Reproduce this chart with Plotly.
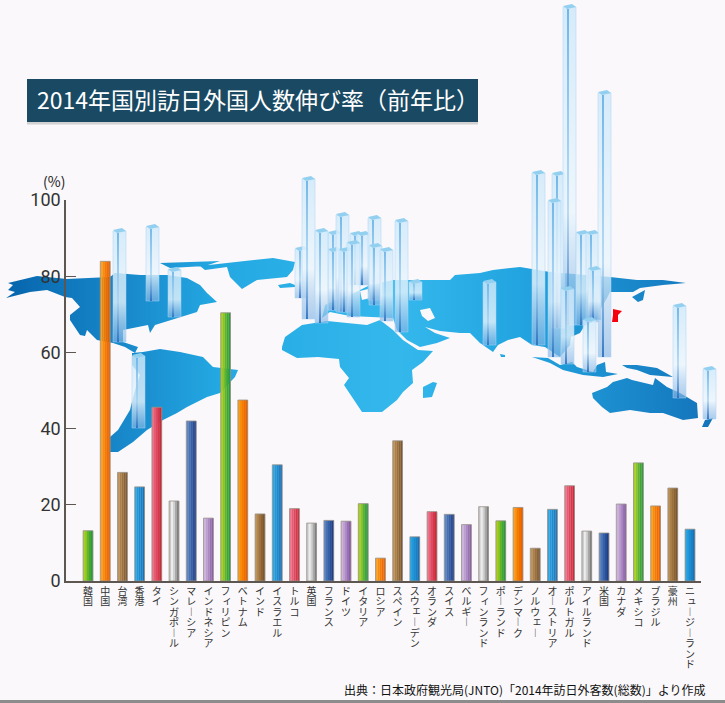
import numpy as np
import plotly.graph_objects as go

categories = ["韓国", "中国", "台湾", "香港", "タイ", "シンガポール", "マレーシア", "インドネシア", "フィリピン",
              "ベトナム", "インド", "イスラエル", "トルコ", "英国", "フランス", "ドイツ", "イタリア", "ロシア",
              "スペイン", "スウェーデン", "オランダ", "スイス", "ベルギー", "フィンランド", "ポーランド", "デンマーク",
              "ノルウェー", "オーストリア", "ポルトガル", "アイルランド", "米国", "カナダ", "メキシコ", "ブラジル",
              "豪州", "ニュージーランド"]
growth = [13.2, 83.9, 28.5, 24.7, 45.6, 21.0, 42.0, 16.5, 70.4,
          47.5, 17.6, 30.5, 19.0, 15.2, 15.9, 15.7, 20.3, 6.0,
          36.8, 11.6, 18.2, 17.5, 14.8, 19.5, 15.8, 19.3,
          8.6, 18.8, 25.0, 13.1, 12.6, 20.2, 31.0, 19.7,
          24.4, 13.6]
bar_colors = ["green", "orange", "brown", "blue", "red", "grey", "navy", "purple", "green",
              "orange", "brown", "blue", "red", "grey", "navy", "purple", "green", "orange",
              "brown", "blue", "red", "navy", "purple", "grey", "green", "orange",
              "brown", "blue", "red", "grey", "navy", "purple", "green", "orange",
              "brown", "blue"]
y_ticks = [0, 20, 40, 60, 80, 100]

title_text = "2014年国別訪日外国人数伸び率（前年比）"
source_text = "出典：日本政府観光局(JNTO)「2014年訪日外客数(総数)」より作成"

# left to right shades of each bar
palette = {
    "green": ["#a8cf1e", "#8cc51f", "#62b32a", "#3fa834", "#2f9a3a"],
    "orange": ["#f9a01c", "#f88c0c", "#f57c00", "#f06e00", "#e86200"],
    "brown": ["#bd9258", "#ac8149", "#9c713d", "#8c6434", "#7c5730"],
    "blue": ["#2aa5e2", "#2098da", "#1b8ccf", "#1a7fc4", "#1a72b6"],
    "red": ["#ee7488", "#e65c74", "#dd4a5f", "#d5384c", "#cb2a3a"],
    "grey": ["#c8c8c8", "#ececec", "#d0d0d0", "#a8a8a8", "#808080"],
    "navy": ["#5b86c4", "#4672b5", "#3760a6", "#2a4f98", "#1f3f88"],
    "purple": ["#cdb3da", "#bd9ed0", "#ab89c2", "#9a72b4", "#8a5ea6"],
}

# world map outlines, in picture pixels
north_america = [(6, 298), (15, 292), (8, 290), (13, 285), (8, 283), (20, 280), (37, 276), (67, 279), (110, 277),
                 (115, 273), (140, 275), (167, 275), (187, 278), (200, 285), (207, 293), (217, 302), (200, 305),
                 (197, 312), (180, 317), (163, 322), (155, 325), (150, 333), (148, 325), (133, 328), (123, 330),
                 (123, 342), (132, 345), (138, 347), (135, 353), (125, 347), (113, 343), (97, 340), (87, 330),
                 (85, 336), (80, 335), (70, 320), (70, 315), (80, 307), (72, 298), (65, 297), (47, 290), (30, 292)]
arctic = [(160, 263), (220, 261), (205, 266), (170, 268)]
greenland = [(200, 266), (240, 262), (273, 258), (295, 262), (293, 270), (287, 277), (257, 280), (242, 289),
             (230, 277), (227, 267), (205, 270)]
south_america = [(132, 353), (143, 352), (160, 349), (180, 352), (203, 357), (213, 367), (238, 370), (235, 377),
                 (220, 393), (207, 397), (187, 407), (177, 413), (163, 420), (147, 430), (133, 442), (118, 452),
                 (110, 452), (110, 437), (118, 430), (130, 410), (135, 390), (140, 375), (132, 365)]
africa = [(282, 347), (285, 337), (302, 325), (327, 321), (347, 323), (367, 325), (380, 320), (393, 330), (403, 340),
          (418, 350), (433, 351), (423, 362), (412, 370), (413, 383), (403, 392), (397, 400), (382, 412), (362, 412),
          (352, 397), (344, 385), (349, 378), (340, 367), (339, 359), (318, 357), (297, 358), (282, 350)]
madagascar = [(423, 387), (433, 382), (437, 383), (432, 397), (423, 398)]
eurasia = [(322, 318), (330, 312), (350, 316), (373, 317), (393, 318), (397, 330), (407, 340), (420, 347), (437, 343),
           (450, 338), (435, 333), (425, 327), (440, 331), (460, 333), (470, 333), (480, 343), (493, 352), (498, 345),
           (508, 340), (520, 337), (532, 345), (545, 347), (560, 357), (570, 345), (571, 337), (580, 333), (585, 325),
           (597, 320), (600, 310), (607, 298), (610, 292), (633, 292), (640, 288), (663, 285), (686, 283), (663, 280),
           (637, 280), (610, 277), (550, 272), (520, 267), (493, 270), (480, 273), (455, 275), (450, 280), (422, 280),
           (393, 280), (370, 285), (350, 295), (335, 300), (325, 305)]
iceland = [(278, 285), (290, 283), (295, 285), (295, 287), (280, 288)]
kamchatka_sea = [(632, 297), (645, 290), (643, 300), (638, 302)]
indonesia = [(532, 357), (550, 363), (563, 370), (583, 375), (603, 377), (618, 374), (606, 372), (605, 362), (597, 365),
             (593, 372), (577, 367), (572, 362), (560, 365), (548, 358)]
new_guinea = [(622, 365), (637, 365), (657, 368), (673, 377), (650, 375), (637, 370), (627, 368)]
australia = [(592, 393), (607, 387), (613, 382), (627, 378), (632, 380), (653, 385), (655, 378), (667, 387), (680, 393),
             (697, 403), (698, 418), (683, 420), (663, 413), (650, 413), (630, 410), (610, 413), (602, 407), (593, 398)]
tasmania = [(702, 427), (705, 420), (713, 418), (708, 427)]
sri_lanka = [(500, 354), (505, 355), (505, 357), (501, 357)]
land = [north_america, arctic, greenland, south_america, africa, madagascar, eurasia, iceland, kamchatka_sea,
        indonesia, new_guinea, australia, tasmania, sri_lanka]

# inland water cut out of the land
black_sea = [(360, 291), (368, 289), (370, 298), (362, 300)]
caspian = [(420, 310), (430, 308), (435, 318), (428, 321), (422, 316)]
water = [black_sea, caspian]

japan = [(613, 309), (622, 311), (618, 315), (618, 322), (612, 322), (613, 315)]

# glass pillars on the map, back ones first
pillar_left = [295, 302, 328, 328, 336, 339, 350, 357, 368, 369, 347, 315, 380, 395, 409, 483,
               113, 146, 168, 132, 552, 563, 576, 586, 532, 548, 598, 588, 561, 583, 673, 703]
pillar_top = [246, 176, 230, 247, 212, 247, 231, 231, 215, 243, 240, 228, 247, 218, 279, 279,
              228, 224, 267, 353, 171, 4, 230, 230, 170, 198, 90, 266, 286, 317, 303, 366]
pillar_bottom = [298, 319, 310, 310, 312, 312, 285, 285, 300, 305, 317, 323, 321, 332, 300, 345,
                 342, 301, 317, 428, 328, 325, 325, 322, 345, 357, 357, 320, 364, 372, 398, 419]


def polygons_xy(polygons):
    xs, ys = [], []
    for poly in polygons:
        xs += [p[0] for p in poly] + [poly[0][0], None]
        ys += [p[1] for p in poly] + [poly[0][1], None]
    return xs, ys


def rect_xy(left, right, top, bottom):
    return [left, right, right, left, left], [top, top, bottom, bottom, top]


def add_pillar(fig, left, top, bottom):
    width = 13
    # body
    xs, ys = rect_xy(left, left + width, top + 3, bottom)
    fig.add_trace(go.Scatter(
        x=xs, y=ys, mode="lines", line=dict(width=0.7, color="rgba(170,215,245,0.7)"), fill="toself",
        fillgradient=dict(type="vertical", start=top, stop=bottom, colorscale=[
            [0, "rgba(205,232,250,0.82)"], [0.65, "rgba(235,245,252,0.8)"], [1, "rgba(130,180,228,0.65)"]]),
        hoverinfo="skip"))
    # darker edge on the side face
    xs, ys = rect_xy(left + 4, left + 6, top + 5, bottom)
    fig.add_trace(go.Scatter(
        x=xs, y=ys, mode="lines", line=dict(width=0), fill="toself",
        fillgradient=dict(type="vertical", start=top, stop=bottom, colorscale=[
            [0, "rgba(100,175,230,0.9)"], [0.65, "rgba(165,210,242,0.75)"], [1, "rgba(40,110,190,0.9)"]]),
        hoverinfo="skip"))
    # cap
    fig.add_trace(go.Scatter(
        x=[left, left + 9, left + width, left + 4, left], y=[top + 2, top, top + 3, top + 5, top + 2],
        mode="lines", line=dict(width=0), fill="toself", fillcolor="#93d0f0", hoverinfo="skip"))


fig = go.Figure()

# map and pillars sit on a pixel axis below the bars
map_x, map_y = polygons_xy(land)
fig.add_trace(go.Scatter(
    x=map_x, y=map_y, mode="lines", line=dict(width=0), fill="toself",
    fillgradient=dict(type="horizontal", start=0, stop=725, colorscale=[
        [0, "#0663ab"], [0.2, "#1b8fd0"], [0.3, "#23a8e2"], [0.55, "#34b8ec"], [0.72, "#22a4e0"], [1, "#1270b8"]]),
    hoverinfo="skip"))
water_x, water_y = polygons_xy(water)
fig.add_trace(go.Scatter(
    x=water_x, y=water_y, mode="lines", line=dict(width=0), fill="toself", fillcolor="#faf8fa", hoverinfo="skip"))
japan_x, japan_y = polygons_xy([japan])
fig.add_trace(go.Scatter(
    x=japan_x, y=japan_y, mode="lines", line=dict(width=0), fill="toself", fillcolor="#f5000f", hoverinfo="skip"))

for left, top, bottom in zip(pillar_left, pillar_top, pillar_bottom):
    add_pillar(fig, left, top, bottom)

# bars: narrow strips side by side give the shading
positions = np.arange(len(categories))
n_strips = 5
bar_w = 0.57
strip_w = bar_w / n_strips
for s in range(n_strips):
    fig.add_trace(go.Bar(
        x=positions, y=growth, xaxis="x2", yaxis="y2",
        width=strip_w + 0.01, offset=-bar_w / 2 + s * strip_w,
        marker=dict(color=[palette[c][s] for c in bar_colors], line=dict(width=0)),
        hoverinfo="skip"))
fig.add_trace(go.Bar(
    x=positions, y=growth, xaxis="x2", yaxis="y2", width=bar_w, offset=-bar_w / 2,
    marker=dict(color="rgba(0,0,0,0)", line=dict(color="#98928a", width=0.8)),
    customdata=categories, hovertemplate="%{customdata}: %{y}%<extra></extra>"))

# upright vertical category names, one character at a time, on a strip of axes under the bars
small_kana = "ィェュッャ"
char_x, char_y, char_t = [], [], []
for pos, name in zip(positions, categories):
    for k, ch in enumerate(name):
        shift = 0.1 if ch in small_kana else 0
        lift = 1.5 if ch in small_kana else 0
        char_x.append(pos + shift)
        char_y.append(11 + 10.5 * k - lift)
        char_t.append("︱" if ch == "ー" else ch)
fig.add_trace(go.Scatter(
    x=char_x, y=char_y, text=char_t, mode="text", xaxis="x3", yaxis="y3",
    textposition="middle center", textfont=dict(family="Noto Sans CJK JP", size=10, color="#333333"),
    hoverinfo="skip"))

fig.update_layout(
    width=725, height=703, margin=dict(l=0, r=0, t=0, b=0), autosize=False,
    paper_bgcolor="#faf8fa", plot_bgcolor="rgba(0,0,0,0)",
    showlegend=False, barmode="overlay", dragmode=False,
    font=dict(family="Noto Sans CJK JP"),
    title=dict(text=title_text, x=37 / 725, xanchor="left", y=1 - 101 / 703, yanchor="middle",
               font=dict(family="Noto Sans CJK JP", size=23, color="#ffffff")),
    xaxis=dict(domain=[0, 1], range=[0, 725], visible=False, fixedrange=True, automargin=False),
    yaxis=dict(domain=[0, 1], range=[703, 0], visible=False, fixedrange=True, automargin=False),
    xaxis2=dict(domain=[66 / 725, 701 / 725], range=[-1.28, 35.64], anchor="y2", automargin=False,
                showgrid=False, zeroline=False, showticklabels=False, ticks="",
                showline=True, linecolor="#5e5650", linewidth=1.5, fixedrange=True),
    yaxis2=dict(domain=[(703 - 581) / 703, (703 - 200) / 703], range=[0, 100], anchor="x2", automargin=False,
                tickvals=y_ticks, ticks="inside", ticklen=10, tickcolor="#5e5650", tickwidth=1,
                tickfont=dict(family="Roboto", size=18, color="#333333"),
                showgrid=False, zeroline=False, showline=True, linecolor="#5e5650", linewidth=1.5, fixedrange=True),
    xaxis3=dict(domain=[66 / 725, 701 / 725], range=[-1.28, 35.64], anchor="y3", visible=False,
                fixedrange=True, automargin=False),
    yaxis3=dict(domain=[0, (703 - 581) / 703], range=[703 - 581, 0], anchor="x3", visible=False,
                fixedrange=True, automargin=False),
    shapes=[
        dict(type="rect", xref="x", yref="y", x0=27, x1=478, y0=122, y1=124.5,
             fillcolor="#d2d2d2", line=dict(width=0), layer="below"),
        dict(type="rect", xref="x", yref="y", x0=27, x1=478, y0=79, y1=122,
             fillcolor="#1a4a63", line=dict(width=0), layer="below"),
        dict(type="rect", xref="x", yref="y", x0=0, x1=725, y0=700, y1=703,
             fillcolor="#8c8c8c", line=dict(width=0), layer="below"),
    ],
    annotations=[
        dict(text="(%)", xref="x", yref="y", x=54, y=181, showarrow=False,
             font=dict(family="Noto Sans CJK JP", size=14, color="#222222")),
        dict(text=source_text, xref="x", yref="y", x=708, y=689, xanchor="right", showarrow=False,
             font=dict(family="Noto Sans CJK JP", size=12, color="#111111")),
    ],
)

fig.write_html("out.html", config={"displayModeBar": False}, post_script="document.body.style.margin='0';")
